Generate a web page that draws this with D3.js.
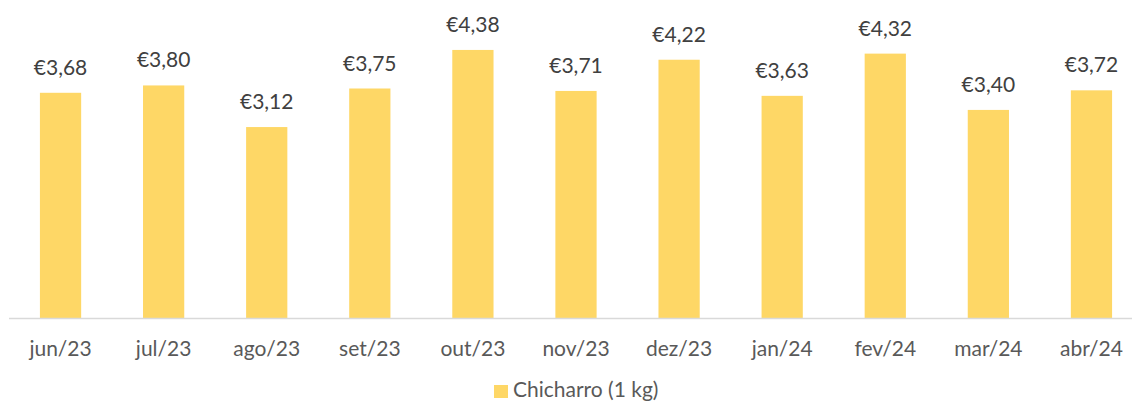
<!DOCTYPE html>
<html>
<head>
<meta charset="utf-8">
<script src="https://cdn.jsdelivr.net/npm/d3@7"></script>
<style>
  body { margin: 0; background: #fff; }
  text { font-family: Lato, "Open Sans", sans-serif; }
</style>
</head>
<body>
<div id="chart"></div>
<script>
var months = ["jun/23", "jul/23", "ago/23", "set/23", "out/23", "nov/23", "dez/23", "jan/24", "fev/24", "mar/24", "abr/24"];
var prices = [3.68, 3.80, 3.12, 3.75, 4.38, 3.71, 4.22, 3.63, 4.32, 3.40, 3.72];
var seriesName = "Chicharro (1 kg)";

var width = 1132, height = 403;
var barColor = "#FED766";

var svg = d3.select("#chart").append("svg")
  .attr("width", width)
  .attr("height", height);

var x = d3.scaleBand()
  .domain(months)
  .range([9, 1143])
  .paddingInner(0.6)
  .paddingOuter(0.3);

var y = d3.scaleLinear()
  .domain([0, 5])
  .range([318, 12]);

// bars
svg.append("g").selectAll("rect")
  .data(prices)
  .enter().append("rect")
  .attr("x", function(d, i) { return x(months[i]); })
  .attr("y", function(d) { return y(d); })
  .attr("width", x.bandwidth())
  .attr("height", function(d) { return y(0) - y(d); })
  .attr("fill", barColor);

// value labels
var fmt = function(v) { return "€" + v.toFixed(2).replace(".", ","); };
svg.append("g").selectAll("text")
  .data(prices)
  .enter().append("text")
  .attr("x", function(d, i) { return x(months[i]) + x.bandwidth() / 2; })
  .attr("y", function(d) { return y(d) - 18; })
  .attr("text-anchor", "middle")
  .attr("font-size", "21px")
  .attr("fill", "#404040")
  .text(fmt);

// x axis
var axis = svg.append("g")
  .attr("transform", "translate(0," + y(0) + ")")
  .call(d3.axisBottom(x).tickSize(0).tickPadding(23));
axis.select(".domain").attr("stroke", "#d9d9d9").attr("stroke-width", 1.5)
  .attr("d", "M9,0.5H1132");
axis.selectAll("text")
  .attr("font-size", "21px")
  .attr("font-family", "Lato, 'Open Sans', sans-serif")
  .attr("fill", "#595959");

// legend
var legend = svg.append("g").attr("transform", "translate(494,385)");
legend.append("rect").attr("width", 14).attr("height", 13).attr("fill", barColor);
legend.append("text")
  .attr("x", 19)
  .attr("y", 12)
  .attr("font-size", "21px")
  .attr("fill", "#595959")
  .text(seriesName);
</script>
</body>
</html>
